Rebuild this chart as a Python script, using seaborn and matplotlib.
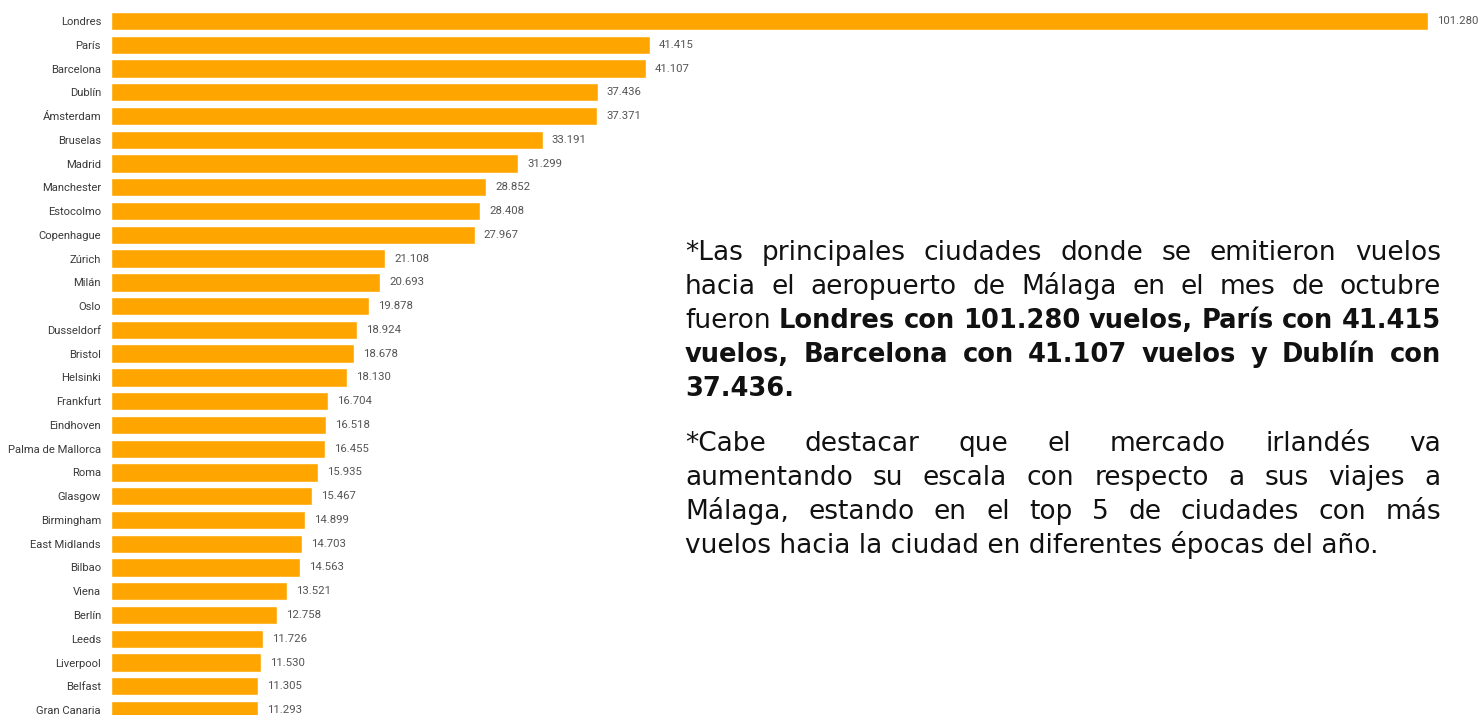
import matplotlib
matplotlib.use("Agg")
import matplotlib.pyplot as plt
import seaborn as sns
import pandas as pd

sns.set_theme(style="white")

# data
ciudades = ["Londres", "París", "Barcelona", "Dublín", "Ámsterdam", "Bruselas", "Madrid",
            "Manchester", "Estocolmo", "Copenhague", "Zúrich", "Milán", "Oslo", "Dusseldorf",
            "Bristol", "Helsinki", "Frankfurt", "Eindhoven", "Palma de Mallorca", "Roma",
            "Glasgow", "Birmingham", "East Midlands", "Bilbao", "Viena", "Berlín", "Leeds",
            "Liverpool", "Belfast", "Gran Canaria"]
vuelos = [101280, 41415, 41107, 37436, 37371, 33191, 31299, 28852, 28408, 27967,
          21108, 20693, 19878, 18924, 18678, 18130, 16704, 16518, 16455, 15935,
          15467, 14899, 14703, 14563, 13521, 12758, 11726, 11530, 11305, 11293]

# texto (lineas ya cortadas como en el original; True = negrita)
parrafo1 = [
    [("*Las principales ciudades donde se emitieron vuelos", False)],
    [("hacia el aeropuerto de Málaga en el mes de octubre", False)],
    [("fueron", False), ("Londres con 101.280 vuelos, París con 41.415", True)],
    [("vuelos, Barcelona con 41.107 vuelos y Dublín con", True)],
    [("37.436.", True)],
]
parrafo2 = [
    [("*Cabe destacar que el mercado irlandés va", False)],
    [("aumentando su escala con respecto a sus viajes a", False)],
    [("Málaga, estando en el top 5 de ciudades con más", False)],
    [("vuelos hacia la ciudad en diferentes épocas del año.", False)],
]

W, H = 1482, 715
fig = plt.figure(figsize=(W / 100, H / 100), dpi=100)
fig.patch.set_facecolor("white")

n = len(ciudades)
row = 23.76
top_px = 21 - row / 2
bot_px = top_px + row * n
left_px, right_px = 111, 1428
ax = fig.add_axes([left_px / W, 1 - bot_px / H, (right_px - left_px) / W, (bot_px - top_px) / H])

df = pd.DataFrame({"ciudad": ciudades, "vuelos": vuelos})
sns.barplot(data=df, x="vuelos", y="ciudad", color="#FFA500", saturation=1,
            width=0.77, ax=ax)
ax.set_xlim(0, max(vuelos))
ax.set_ylim(n - 0.5, -0.5)
etiquetas = [f"{v:,}".replace(",", ".") for v in vuelos]
ax.bar_label(ax.containers[0], labels=etiquetas, padding=6.5, fontsize=8.2,
             color="#555555", family="Roboto")
ax.set_xlabel("")
ax.set_ylabel("")
ax.set_xticks([])
ax.tick_params(axis="y", length=0, pad=7.2)
for lab in ax.get_yticklabels():
    lab.set_fontsize(8.1)
    lab.set_color("#3a3a3a")
    lab.set_family("Roboto")
for s in ax.spines.values():
    s.set_visible(False)

# parrafos justificados
fs_normal, fs_bold = 19, 18.5
fuente = "DejaVu Sans"
x0, x1 = 685, 1441
renderer = fig.canvas.get_renderer()


def linea(tokens, y, justificar):
    palabras = []
    for txt, bold in tokens:
        for w in txt.split():
            palabras.append((w, bold))
    if not justificar:
        s = " ".join(w for w, _ in palabras)
        bold = palabras[0][1]
        fig.text(x0 / W, 1 - y / H, s, fontsize=fs_bold if bold else fs_normal,
                 family=fuente, fontweight="bold" if bold else "normal",
                 va="baseline", ha="left", color="#111111")
        return
    objs = []
    for w, bold in palabras:
        t = fig.text(0, 1 - y / H, w, fontsize=fs_bold if bold else fs_normal,
                     family=fuente, fontweight="bold" if bold else "normal",
                     va="baseline", ha="left", color="#111111")
        objs.append(t)
    anchos = [t.get_window_extent(renderer).width for t in objs]
    hueco = (x1 - x0 - sum(anchos)) / (len(objs) - 1)
    x = x0
    for t, a in zip(objs, anchos):
        t.set_x(x / W)
        x += a + hueco


y = 260
for i, l in enumerate(parrafo1):
    linea(l, y, i < len(parrafo1) - 1)
    y += 34
y = 451
for i, l in enumerate(parrafo2):
    linea(l, y, i < len(parrafo2) - 1)
    y += 34

fig.savefig("out.png", dpi=100)
